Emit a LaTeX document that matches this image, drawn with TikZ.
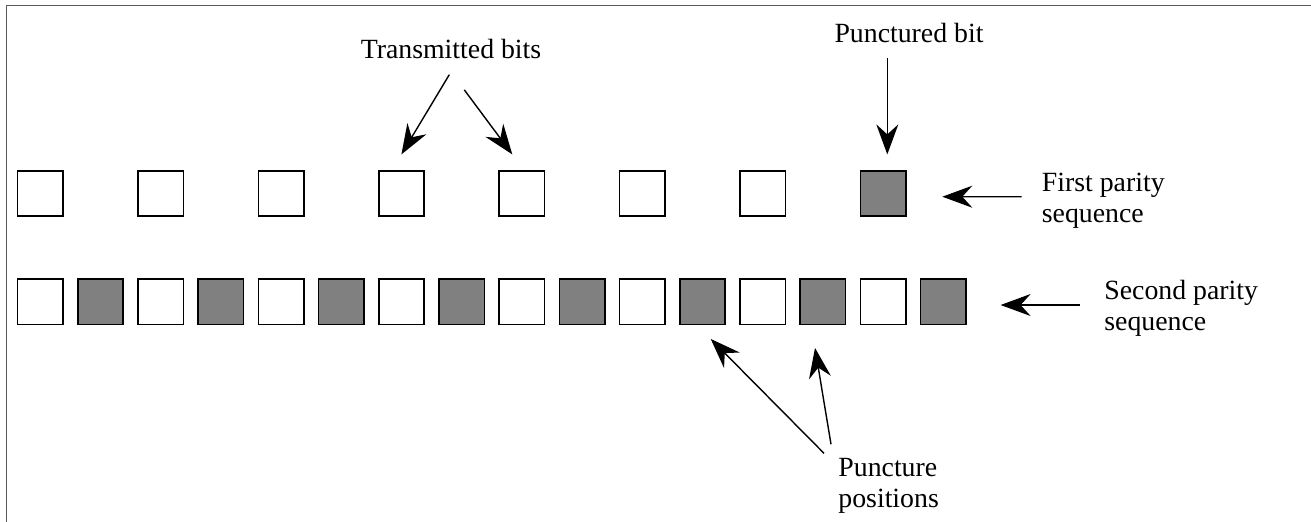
\documentclass[tikz,border=0pt]{standalone}
\usepackage{fontspec}
\setmainfont{Liberation Serif}
\usetikzlibrary{arrows.meta}
\definecolor{bitgray}{RGB}{128,128,128}
\tikzstyle{bit} = [draw, line width=0.8pt, minimum size=22.7pt, inner sep=0pt]

\begin{document}
\begin{tikzpicture}[x=0.5pt,y=-0.5pt,
			kept/.style={bit,fill=white},
			gone/.style={bit,fill=bitgray},
			lbl/.style={inner sep=0pt,font=\fontsize{13.9pt}{15.5pt}\selectfont,align=left},
			arr/.style={line width=0.7pt,-{Stealth[length=15pt,width=11pt,inset=5pt]}},
			frame/.style={line width=0.8pt,black!65}]
			\useasboundingbox (0,0) rectangle (1311,521);
			\draw[frame] (1320,5.5) -- (6.5,5.5) -- (6.5,530);
			
			% first parity sequence
			\foreach \i in {0,...,6}
			\node (p\i)[kept] at (40.2+120.4*\i,193.5) {};
			\node (p7)[gone] at (883,193.5) {};
			
			% second parity sequence
			\foreach \i in {0,2,...,14} {
				\pgfmathtruncatemacro\j{\i+1}
				\node (q\i)[kept] at (40.2+60.2*\i,301.8) {};
				\node (q\j)[gone] at (100.4+60.2*\i,301.8) {};
			}
			
			\node (trans)[lbl,anchor=base] at (451,58) {Transmitted bits};
			\node (punct)[lbl,anchor=base] at (909,42) {Punctured bit};
			\node (first)[lbl,anchor=north west] at (1041.5,172.8) {First parity\\sequence};
			\node (second)[lbl,anchor=north west] at (1104,279.4) {Second parity\\sequence};
			\node (punpos)[lbl,anchor=north west] at (838,457.7) {Puncture\\positions};
			
			\draw[arr] ([xshift=-0.85pt,yshift=-8pt]trans.south) -- ([yshift=7.8pt]p3.north);
			\draw[arr] ([xshift=6.65pt,yshift=-15.6pt]trans.south) -- ([xshift=-4.75pt,yshift=7.8pt]p4.north);
			\draw[arr] ([xshift=-10.85pt,yshift=-7.5pt]punct.south) -- ([xshift=2.15pt,yshift=7.8pt]p7.north);
			\draw[arr] ([xshift=-9.9pt,yshift=-11.95pt]first.north west) -- ([xshift=17.9pt,yshift=-1.6pt]p7.east);
			\draw[arr] ([xshift=-12pt,yshift=-12.8pt]second.north west) -- ([xshift=16.95pt,yshift=-1.6pt]q15.east);
			\draw[arr] ([xshift=-7pt,yshift=2.2pt]punpos.north west) -- ([xshift=4.15pt,yshift=-6.8pt]q11.south);
			\draw[arr] ([xshift=-3.5pt,yshift=6.7pt]punpos.north west) -- ([xshift=-3.9pt,yshift=-11.3pt]q13.south);
		\end{tikzpicture}
\end{document}
